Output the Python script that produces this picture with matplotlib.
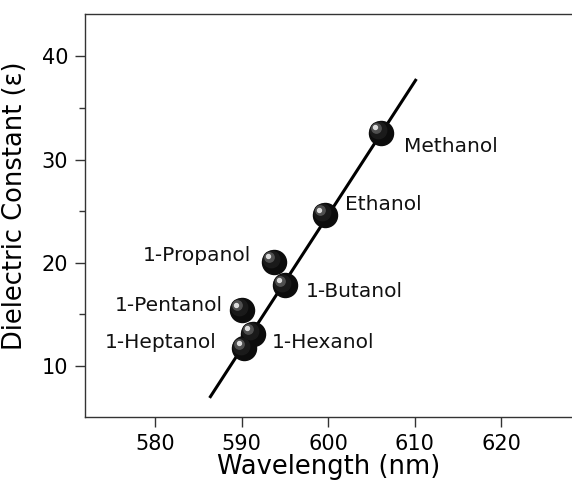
import matplotlib
matplotlib.use("Agg")
import matplotlib.pyplot as plt
from matplotlib.ticker import MultipleLocator
from matplotlib.transforms import offset_copy

plt.rcParams["font.family"] = ["DejaVu Sans"]

# Data
solvents = ["Methanol", "Ethanol", "1-Propanol", "1-Butanol",
            "1-Pentanol", "1-Hexanol", "1-Heptanol"]
wavelength = [606.1, 599.6, 593.7, 595.0, 590.0, 591.3, 590.3]
dielectric = [32.6, 24.6, 20.1, 17.8, 15.4, 13.1, 11.7]

# fitted line end points
fit_x = [586.3, 610.2]
fit_y = [6.9, 37.8]

# label placement (offset in data units, alignment)
label_pos = {
    "Methanol": (2.7, -1.3, "left"),
    "Ethanol": (2.3, 1.0, "left"),
    "1-Propanol": (-2.6, 0.6, "right"),
    "1-Butanol": (2.4, -0.6, "left"),
    "1-Pentanol": (-2.2, 0.5, "right"),
    "1-Hexanol": (2.2, -0.8, "left"),
    "1-Heptanol": (-3.25, 0.6, "right"),
}

fig = plt.figure(figsize=(5.72, 4.87), dpi=100)
ax = fig.add_axes([85 / 572, 1 - 417 / 487, (573 - 85) / 572, (417 - 14) / 487])

ax.plot(fit_x, fit_y, color="black", lw=2.2, solid_capstyle="butt", zorder=2)

# sphere-like markers: dark ball plus a small highlight up-left
ax.scatter(wavelength, dielectric, s=300, color="#0c0c0c", zorder=3)
ax.scatter(wavelength, dielectric, s=140, color="#1a1a1a", zorder=3,
           transform=offset_copy(ax.transData, fig=fig, x=-2, y=2, units="points"))
ax.scatter(wavelength, dielectric, s=45, color="#505050", zorder=4,
           transform=offset_copy(ax.transData, fig=fig, x=-3.5, y=3.5, units="points"))
ax.scatter(wavelength, dielectric, s=8, color="#dcdcdc", zorder=5,
           transform=offset_copy(ax.transData, fig=fig, x=-4, y=4, units="points"))

for name, x, y in zip(solvents, wavelength, dielectric):
    dx, dy, ha = label_pos[name]
    ax.text(x + dx, y + dy, name, ha=ha, va="center", fontsize=14.5, color="#111111")

ax.set_xlim(571.9, 628.3)
ax.set_ylim(5.05, 44.1)
ax.xaxis.set_major_locator(MultipleLocator(10))
ax.yaxis.set_major_locator(MultipleLocator(10))
ax.yaxis.set_minor_locator(MultipleLocator(5))

for side in ["left", "bottom", "top"]:
    ax.spines[side].set_color("#333333")
    ax.spines[side].set_linewidth(1.0)
ax.spines["right"].set_visible(False)

ax.tick_params(axis="both", which="major", direction="out", length=7,
               width=1, color="#333333", labelsize=15, pad=5)
ax.tick_params(axis="y", which="minor", direction="out", length=4,
               width=1, color="#333333")

ax.set_xlabel("Wavelength (nm)", fontsize=18.5, labelpad=0)
ax.set_ylabel("Dielectric Constant (\u03b5)", fontsize=18.5)
ax.yaxis.set_label_coords(-0.117, 0.525)

fig.savefig("out.png", dpi=100)
